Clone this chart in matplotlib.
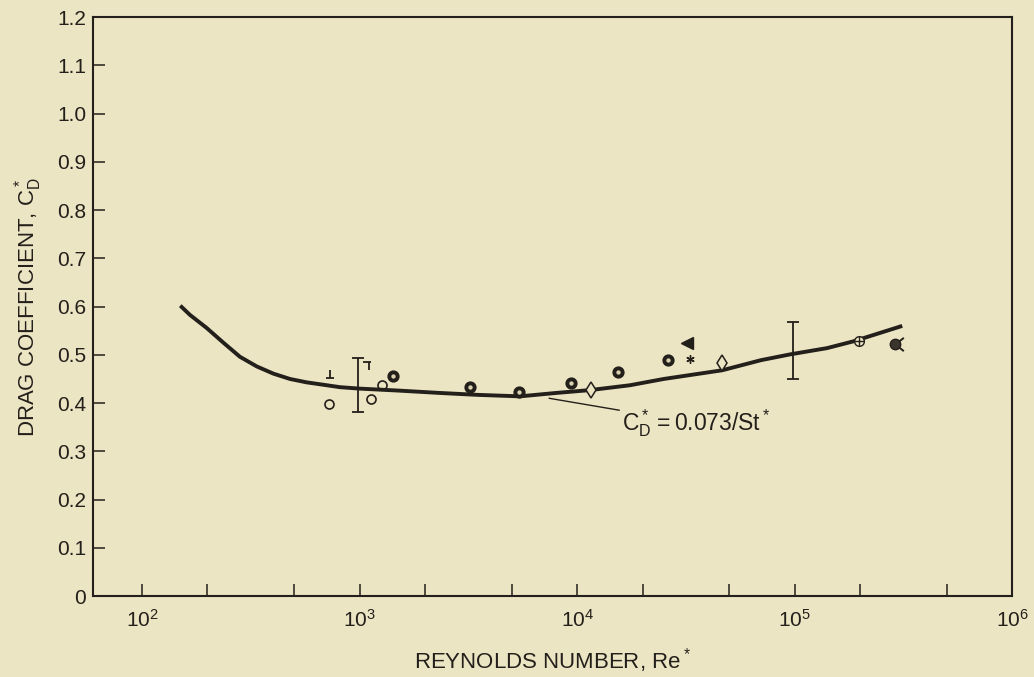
import matplotlib
matplotlib.use('Agg')
import matplotlib.pyplot as plt
import numpy as np
from matplotlib.path import Path
from matplotlib.ticker import LogLocator, FuncFormatter, NullFormatter, FixedLocator

# correlation curve C_D* = 0.073/St*
curve_re = [150, 166, 198, 237, 282, 337, 402, 479, 571, 682, 813, 1000, 1500, 2340,
            3500, 5470, 8000, 11500, 17500, 25000, 46400, 70000, 95300, 141000,
            186000, 312000]
curve_cd = [0.602, 0.583, 0.556, 0.525, 0.496, 0.476, 0.461, 0.450, 0.443, 0.438,
            0.433, 0.430, 0.426, 0.421, 0.417, 0.414, 0.421, 0.427, 0.437, 0.450,
            0.468, 0.489, 0.501, 0.514, 0.528, 0.560]

# experimental points, one list per symbol
circle_re = [724, 1130, 1268]
circle_cd = [0.398, 0.408, 0.437]
dot_re = [1426, 3220, 5410, 9380, 15460, 26200]
dot_cd = [0.456, 0.433, 0.423, 0.441, 0.464, 0.489]
diamond_re = [11590, 46400]
diamond_cd = [0.427, 0.483]
triangle_re = [32050]
triangle_cd = [0.524]
star_re = [33100]
star_cd = [0.491]
oplus_re = [198000]
oplus_cd = [0.528]
tail_re = [290000]
tail_cd = [0.522]
perp_re = [731]
perp_cd = [0.460]
top_re = [1081]
top_cd = [0.477]

# scatter bands
band_re = [984, 98500]
band_lo = [0.381, 0.450]
band_hi = [0.493, 0.568]

y_ticks = [0, 0.1, 0.2, 0.3, 0.4, 0.5, 0.6, 0.7, 0.8, 0.9, 1.0, 1.1, 1.2]

bg = '#ece5c4'
ink = '#231f1a'

plt.rcParams['font.family'] = ['Liberation Sans', 'DejaVu Sans']
plt.rcParams['mathtext.default'] = 'regular'

fig = plt.figure(figsize=(10.34, 6.77), dpi=100, facecolor=bg)
ax = fig.add_axes([0.090, 0.1196, 0.889, 0.855], facecolor=bg)

# custom symbols
MV, LT = Path.MOVETO, Path.LINETO
perp_marker = Path([(-1, -1), (1, -1), (0, -1), (0, 1)], [MV, LT, MV, LT])
top_marker = Path([(-1, 1), (1, 1), (0.5, 1), (0.5, -1)], [MV, LT, MV, LT])
tail_marker = Path([(0, 0), (1, 0.8), (0, 0), (1, -0.8)], [MV, LT, MV, LT])

ax.plot(curve_re, curve_cd, color=ink, linewidth=2.8, solid_capstyle='butt',
        solid_joinstyle='round', zorder=3)

mid = (np.array(band_lo) + np.array(band_hi)) / 2
half = (np.array(band_hi) - np.array(band_lo)) / 2
ax.errorbar(band_re, mid, yerr=half, fmt='none', ecolor=ink, elinewidth=1.3,
            capsize=4, capthick=1.3, zorder=2)

ax.plot(circle_re, circle_cd, 'o', ms=6.5, mfc='none', mec=ink, mew=1.2, zorder=4)
ax.plot(dot_re, dot_cd, 'o', ms=6, mfc='#d9d1b0', mec=ink, mew=2.8, zorder=4)
ax.plot(diamond_re, diamond_cd, 'd', ms=8, mfc=bg, mec=ink, mew=1.1, zorder=4)
ax.plot(triangle_re, triangle_cd, '<', ms=8, mfc=ink, mec=ink, zorder=4)
ax.plot(star_re, star_cd, marker=(6, 2, 0), ms=6, color=ink, mew=1.0, ls='none', zorder=4)
ax.plot(oplus_re, oplus_cd, 'o', ms=7, mfc=bg, mec=ink, mew=1.0, zorder=4)
ax.plot(oplus_re, oplus_cd, '+', ms=7, color=ink, mew=1.0, zorder=5)
ax.plot(tail_re, tail_cd, marker=tail_marker, ms=12, color=ink, mew=1.4, ls='none', zorder=4)
ax.plot(tail_re, tail_cd, 'o', ms=7.5, mfc='#3a342c', mec=ink, zorder=5)
ax.plot(perp_re, perp_cd, marker=perp_marker, ms=6, color=ink, mew=1.3, ls='none', zorder=4)
ax.plot(top_re, top_cd, marker=top_marker, ms=6, color=ink, mew=1.3, ls='none', zorder=4)

# label for the curve
ax.annotate(r'$C_D^*=0.073/St^*$', xy=(7430, 0.410), xytext=(16100, 0.358),
            fontsize=16.5, color=ink, ha='left', va='center',
            arrowprops=dict(arrowstyle='-', color=ink, lw=1.0, shrinkA=0, shrinkB=0))

# axes
ax.set_xscale('log')
ax.set_xlim(59.6, 1e6)
ax.set_ylim(0, 1.2)
ax.xaxis.set_major_locator(LogLocator(base=10, numticks=10))
ax.xaxis.set_minor_locator(LogLocator(base=10, subs=(2, 5), numticks=10))
ax.xaxis.set_minor_formatter(NullFormatter())
ax.yaxis.set_major_locator(FixedLocator(y_ticks))
ax.yaxis.set_major_formatter(FuncFormatter(lambda v, p: '0' if v == 0 else f'{v:.1f}'))

ax.tick_params(axis='both', which='both', direction='in', length=8.5, width=1.1,
               color=ink, labelcolor=ink, labelsize=15, top=False, right=False)
ax.tick_params(axis='x', which='major', pad=9)
ax.tick_params(axis='y', which='major', pad=5)
for side in ax.spines.values():
    side.set_linewidth(1.5)
    side.set_color(ink)

ax.set_xlabel(r'REYNOLDS NUMBER, $Re^*$', fontsize=16, color=ink, labelpad=11)
ax.set_ylabel(r'DRAG COEFFICIENT, $C_D^*$', fontsize=16, color=ink, labelpad=9)

plt.savefig('out.png', dpi=100, facecolor=bg)
